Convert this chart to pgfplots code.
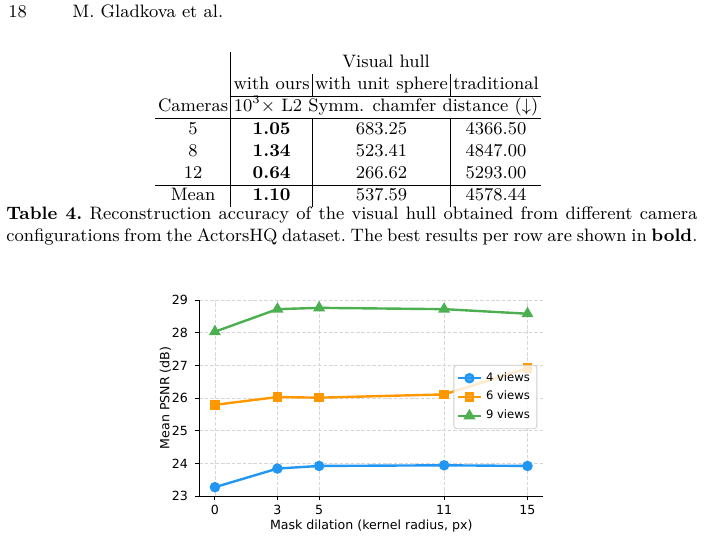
\documentclass[border=0pt]{standalone}
\usepackage{pgfplots}
\pgfplotsset{compat=1.18}
\usepackage{fontspec}
\newfontfamily\dejavu{DejaVu Sans}
\definecolor{cblue}{HTML}{2196F3}
\definecolor{corange}{HTML}{FF9800}
\definecolor{cgreen}{HTML}{4CAF50}
\newcommand{\chartfont}{\dejavu\fontsize{6.3}{7.5}\selectfont}
\newcommand{\legfont}{\dejavu\fontsize{5.8}{6.9}\selectfont}
\begin{document}
\begin{tikzpicture}[x=0.5pt,y=-0.5pt]
\path[use as bounding box] (0,0) rectangle (704,539);
\node[anchor=base west,font=\small,inner sep=0] at (8,18) {18};
\node[anchor=base west,font=\small,inner sep=0] at (72,18) {M. Gladkova et al.};
\node[anchor=north west,inner sep=0] at (155,51.5) {\small\setlength{\tabcolsep}{1.35pt}\renewcommand{\arraystretch}{1.0}%
\begin{tabular}{c|c|c|c}
 & \multicolumn{3}{c}{Visual hull} \\
 & with ours & with unit sphere & traditional \\ \cline{2-4}
Cameras & \multicolumn{3}{c}{$10^3\times$ L2 Symm. chamfer distance ($\downarrow$)} \\ \hline
5 & \textbf{1.05} & 683.25 & 4366.50 \\
8 & \textbf{1.34} & 523.41 & 4847.00 \\
12 & \textbf{0.64} & 266.62 & 5293.00 \\ \hline
Mean & \textbf{1.10} & 537.59 & 4578.44
\end{tabular}};
\node[anchor=north west,inner sep=0,text width=345.5pt,align=justify,font=\small] at (6,206) {\frenchspacing\textbf{Table 4.} Reconstruction accuracy of the visual hull obtained from different camera\linebreak configurations from the ActorsHQ dataset. The best results per row are shown~in~\textbf{bold}.};
\coordinate (O) at (199.3,496);
\begin{axis}[
  at={(O)}, anchor=south west, scale only axis,
  width=171.9pt, height=98pt,
  xmin=-0.75, xmax=15.75, ymin=23, ymax=29,
  xtick={0,3,5,11,15}, ytick={23,24,25,26,27,28,29},
  axis x line*=bottom, axis y line*=left,
  axis line style={line width=0.5pt, black},
  tick style={black, line width=0.5pt}, major tick length=2.2pt, tick align=outside,
  grid=major, grid style={dash pattern=on 1.8pt off 0.9pt, black!16, line width=0.4pt},
  tick label style={font=\chartfont},
  xticklabel style={yshift=1pt},
  /pgf/number format/assume math mode=true,
  label style={font=\chartfont},
  xlabel={Mask dilation (kernel radius, px)},
  ylabel={Mean PSNR (dB)},
  xlabel shift=-4.5pt,
  ylabel shift=-6.5pt,
  clip=false,
  legend style={at={(rel axis cs:0.983,0.505)}, anchor=east, font=\legfont,
    draw=black!20, rounded corners=1.5pt, fill=white, fill opacity=0.8, text opacity=1,
    inner sep=1.5pt, row sep=-0.5pt},
  legend cell align=left,
  legend image code/.code={\draw[mark repeat=2,mark phase=2] plot coordinates {(0cm,0cm)(0.2cm,0cm)(0.4cm,0cm)};},
]
\addplot[cblue, line width=1.2pt, mark=*, mark size=2pt, mark options={solid}] coordinates {(0,23.27)(3,23.84)(5,23.92)(11,23.94)(15,23.92)};
\addlegendentry{4 views}
\addplot[corange, line width=1.2pt, mark=square*, mark size=1.8pt, mark options={solid}] coordinates {(0,25.79)(3,26.03)(5,26.01)(11,26.11)(15,26.91)};
\addlegendentry{6 views}
\addplot[cgreen, line width=1.2pt, mark=triangle*, mark size=2.3pt, mark options={solid}] coordinates {(0,28.03)(3,28.72)(5,28.76)(11,28.72)(15,28.58)};
\addlegendentry{9 views}
\end{axis}
\end{tikzpicture}
\end{document}
